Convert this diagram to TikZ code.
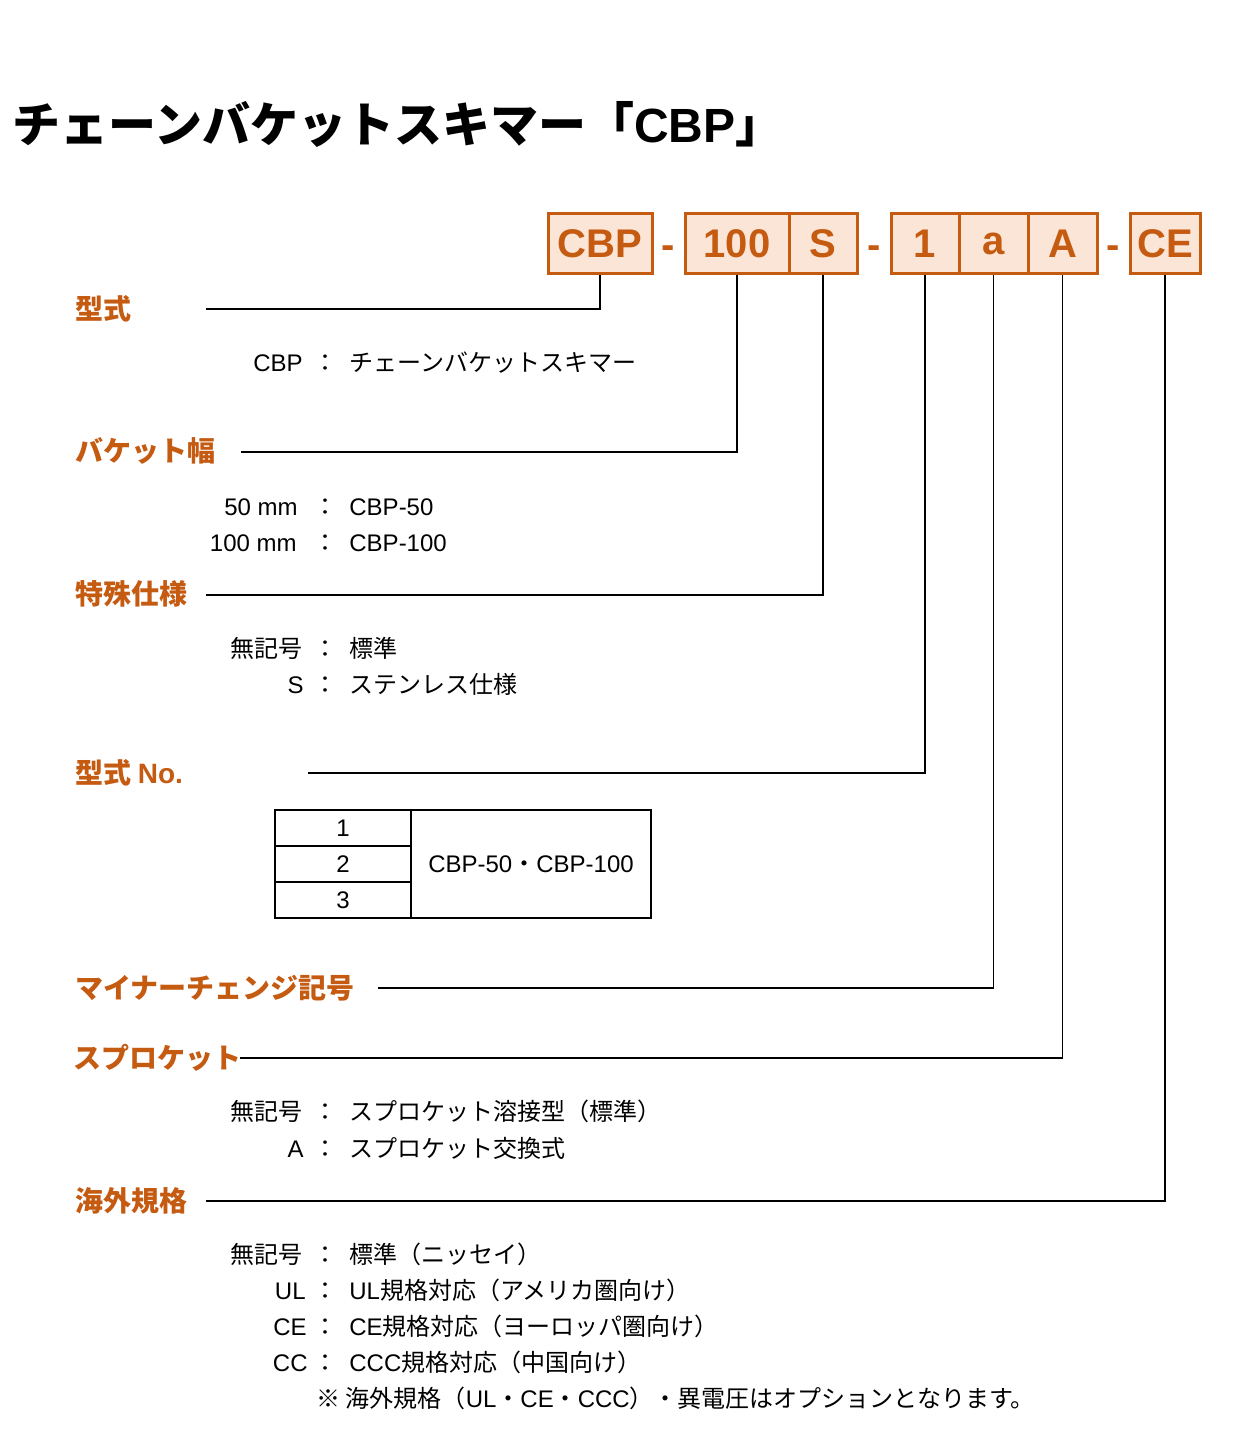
\documentclass[tikz,border=0pt]{standalone}
\usepackage{fontspec}
\setmainfont{Liberation Sans}
\newfontfamily\jp{Noto Sans CJK JP}
\newcommand{\jtxt}[1]{{\jp #1}}
\usepackage{tikz}
\usetikzlibrary{arrows,positioning}
\definecolor{rust}{HTML}{C55A11}
\definecolor{peach}{HTML}{FBE5D6}
\tikzset{
    %Define style for code boxes
    codebox/.style={
           rectangle,
           draw=rust, line width=1.5pt,
           fill=peach,
           text=rust,
           minimum height=30pt,
           outer sep=0pt,
           font=\fontsize{20}{24}\selectfont\bfseries,
           text centered},
    hyphen/.style={
           anchor=base,
           inner sep=0pt,
           text=rust,
           font=\fontsize{20}{24}\selectfont\bfseries},
    %Define style for headings
    heading/.style={
           anchor=mid west,
           inner sep=0pt,
           text=rust,
           font=\fontsize{14}{16}\selectfont\bfseries\jp},
    keytext/.style={
           anchor=mid east,
           inner sep=0pt,
           font=\fontsize{12}{14}\selectfont},
    valtext/.style={
           anchor=mid west,
           inner sep=0pt,
           font=\fontsize{12}{14}\selectfont},
    colon/.style={
           anchor=mid,
           inner sep=0pt,
           font=\fontsize{12}{14}\selectfont\jp},
    %Define style for table cells
    cell/.style={
           rectangle,
           draw=black, line width=0.6pt,
           outer sep=0pt,
           minimum width=68pt,
           minimum height=18pt,
           font=\fontsize{12}{14}\selectfont,
           text centered},
    % Define line style
    leader/.style={
           draw=black,
           line width=0.6pt,
           shorten <=0.75pt}
}
\begin{document}
\begin{tikzpicture}[x=0.5pt,y=-0.5pt]
\useasboundingbox (0,0) rectangle (1235,1454);

 %title
\node[anchor=mid west, inner sep=0pt, font=\fontsize{24}{28}\selectfont\bfseries] (title) at (12,137)
    {\jtxt{チェーンバケットスキマー「}CBP\jtxt{」}};

 %code boxes
\node[codebox, minimum width=52pt] (cbp) at (600,244) {CBP};
\node[hyphen] (d1) at (668,259) {-};
\node[codebox, minimum width=52pt] (width) at (737,244) {100};
\node[codebox, minimum width=34pt, right=0pt of width] (spec) {S};
\node[hyphen] (d2) at (874,259) {-};
\node[codebox, minimum width=34pt] (tno) at (925,244) {1};
\node[codebox, minimum width=34.5pt, right=0pt of tno] (minor) {a};
\node[codebox, minimum width=34.5pt, right=0pt of minor] (spro) {A};
\node[hyphen] (d3) at (1113,259) {-};
\node[codebox, minimum width=35pt] (ce) at (1165,244) {CE};

 %headings
\node[heading] (hmodel) at (75,314) {型式};
\node[heading] (hwidth) at (75,456) {バケット幅};
\node[heading] (hspec) at (75,599) {特殊仕様};
\node[heading] (htno) at (75,778) {型式 {\rmfamily No.}};
\node[heading] (hminor) at (75,993) {マイナーチェンジ記号};
\node[heading] (hspro) at (73,1063) {スプロケット};
\node[heading] (hce) at (75,1206) {海外規格};

 %leaders
\coordinate (e1) at (206,309);
\coordinate (e2) at (241,452);
\coordinate (e3) at (206,595);
\coordinate (e4) at (308,773);
\coordinate (e5) at (378,988);
\coordinate (e6) at (240,1058);
\coordinate (e7) at (206,1201);
\draw[leader] (cbp.south) |- (e1);
\draw[leader] (width.south) |- (e2);
\draw[leader] (spec.south) |- (e3);
\draw[leader] (tno.south) |- (e4);
\draw[leader] (minor.south) |- (e5);
\draw[leader] (spro.south) |- (e6);
\draw[leader, line width=1pt] (ce.south) |- (e7);

 %entries
\foreach \y/\x/\k/\v in {
    366/303/CBP/{\jtxt{チェーンバケットスキマー}},
    510/298/{50 mm}/CBP-50,
    546/297/{100 mm}/CBP-100,
    652/303/{\jtxt{無記号}}/{\jtxt{標準}},
    688/304/S/{\jtxt{ステンレス仕様}},
    1115/303/{\jtxt{無記号}}/{\jtxt{スプロケット溶接型（標準）}},
    1152/304/A/{\jtxt{スプロケット交換式}},
    1258/303/{\jtxt{無記号}}/{\jtxt{標準（ニッセイ）}},
    1294/306/UL/{UL\jtxt{規格対応（アメリカ圏向け）}},
    1330/307/CE/{CE\jtxt{規格対応（ヨーロッパ圏向け）}},
    1366/308/CC/{CCC\jtxt{規格対応（中国向け）}}}{
  \node[keytext] (k\y) at (\x,\y) {\k};
  \node[colon] (c\y) at (325,\y) {：};
  \node[valtext] (v\y) at (349,\y) {\v};
}
\node[valtext] (note) at (316,1402)
    {\jtxt{※ 海外規格（}UL\jtxt{・}CE\jtxt{・}CCC\jtxt{）・異電圧はオプションとなります。}};

 %table
\node[cell] (r1) at (343,828) {1};
\node[cell, below=0pt of r1] (r2) {2};
\node[cell, below=0pt of r2] (r3) {3};
\node[cell, minimum width=120pt, minimum height=54pt, anchor=north west] (tmodel) at (r1.north east)
    {CBP-50\jtxt{・}CBP-100};

\end{tikzpicture}
\end{document}
